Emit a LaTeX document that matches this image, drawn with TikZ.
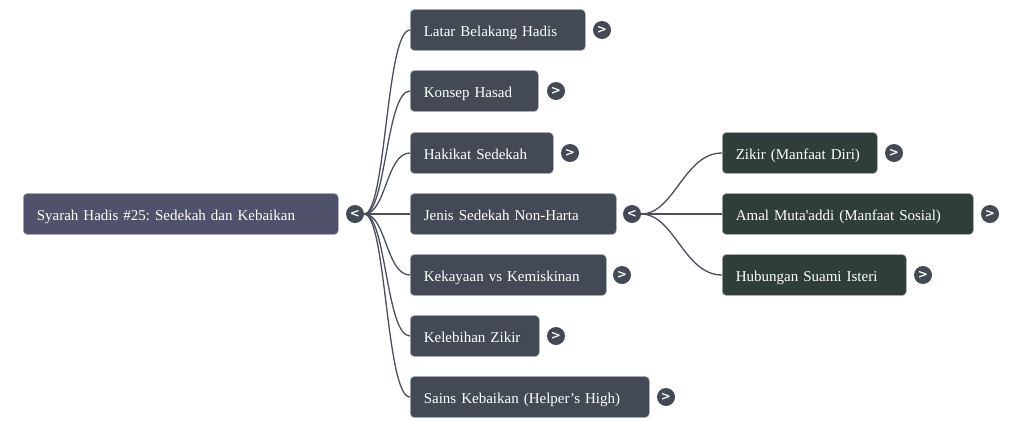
\documentclass[tikz,border=0pt]{standalone}
\usepackage{fontspec}
\setmainfont{Liberation Serif}[Ligatures=TeXOff]
\newfontfamily\symfont{DejaVu Sans}
\definecolor{rootc}{HTML}{50516A}
\definecolor{lonec}{HTML}{434A55}
\definecolor{ltwoc}{HTML}{2F3E3B}
\definecolor{togc}{HTML}{434A55}
\definecolor{edgec}{HTML}{4A4E5E}
\definecolor{bordc}{HTML}{A8ADB5}
\begin{document}
\begin{tikzpicture}[x=1pt,y=-1pt,
  box/.style={draw=bordc,line width=0.6pt,rounded corners=4pt,anchor=west,
    minimum height=41pt,inner xsep=13.5pt,inner ysep=0pt,align=left,
    text height=14pt,text depth=1.5pt,
    text=white,font=\frenchspacing\fontsize{15}{17}\selectfont},
  rootbox/.style={box,fill=rootc},
  lonebox/.style={box,fill=lonec},
  ltwobox/.style={box,fill=ltwoc},
  tog/.style={circle,fill=togc,minimum size=18pt,inner sep=0pt,text=white,
    font=\symfont\bfseries\fontsize{12}{12}\selectfont},
  link/.style={draw=edgec,line width=1.3pt}
]
\useasboundingbox (0,0) rectangle (1023,429);
% root
\node[rootbox,text width=288pt] (root) at (23,214) {Syarah Hadis \#25: Sedekah dan Kebaikan};
\node[tog] (troot) at (355,214) {<};
% level 1
\node[lonebox,text width=148pt] (a) at (410,30) {Latar Belakang Hadis};
\node[lonebox,text width=101pt] (b) at (410,91) {Konsep Hasad};
\node[lonebox,text width=116pt] (c) at (410,153) {Hakikat Sedekah};
\node[lonebox,text width=179pt] (d) at (410,214) {Jenis Sedekah Non-Harta};
\node[lonebox,text width=169pt] (e) at (410,275) {Kekayaan vs Kemiskinan};
\node[lonebox,text width=102pt] (f) at (410,336) {Kelebihan Zikir};
\node[lonebox,text width=212pt] (g) at (410,397) {Sains Kebaikan (Helper’s High)};
\node[tog] (ta) at (602,30) {>};
\node[tog] (tb) at (556,91) {>};
\node[tog] (tc) at (570,153) {>};
\node[tog] (td) at (632,214) {<};
\node[tog] (te) at (622,275) {>};
\node[tog] (tf) at (556,336) {>};
\node[tog] (tg) at (666,397) {>};
% level 2
\node[ltwobox,text width=128pt] (h) at (722,153) {Zikir (Manfaat Diri)};
\node[ltwobox,text width=224pt] (i) at (722,214) {Amal Muta'addi (Manfaat Sosial)};
\node[ltwobox,text width=157pt] (j) at (722,275) {Hubungan Suami Isteri};
\node[tog] (th) at (894,153) {>};
\node[tog] (ti) at (990,214) {>};
\node[tog] (tj) at (923,275) {>};
% connectors
\begin{scope}[on background layer/.try]
\foreach \n in {a,b,c,d,e,f,g}{
  \path[link] (troot.east) .. controls ([xshift=22pt]troot.east) and ([xshift=-24pt]\n.west) .. (\n.west);
}
\foreach \n in {h,i,j}{
  \path[link] (td.east) .. controls ([xshift=33pt]td.east) and ([xshift=-38pt]\n.west) .. (\n.west);
}
\end{scope}
\end{tikzpicture}
\end{document}
